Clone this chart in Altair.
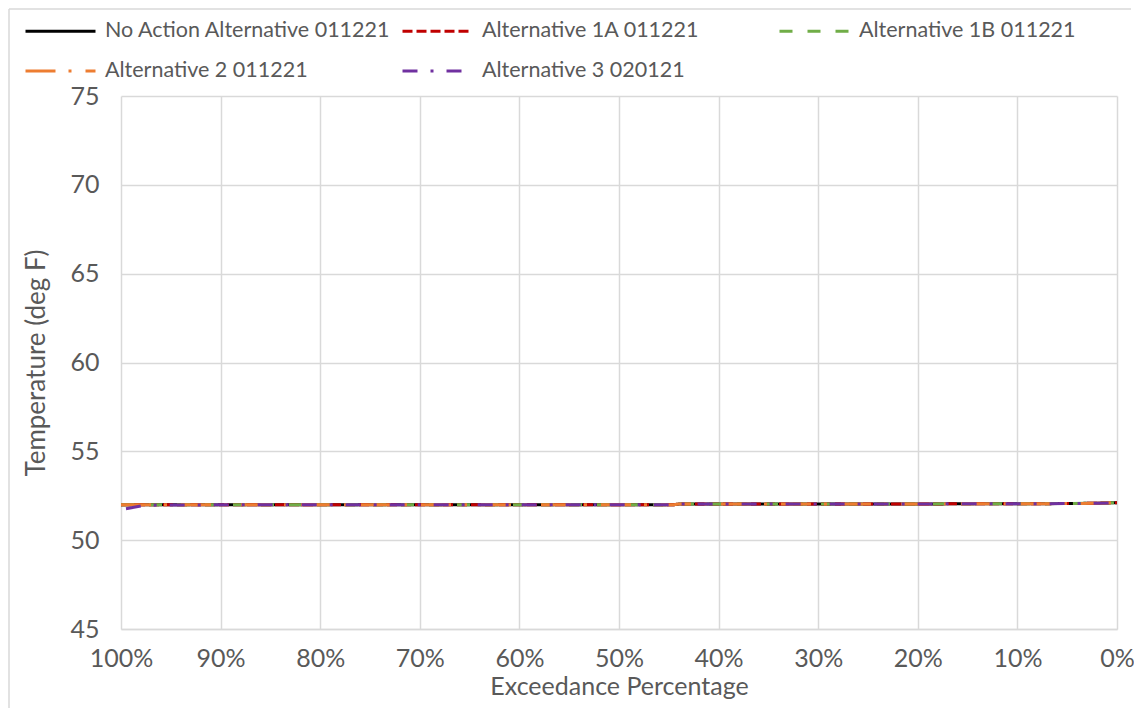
import altair as alt
import pandas as pd

# ---- data ----
series = [
    "No Action Alternative 011221",
    "Alternative 1A 011221",
    "Alternative 1B 011221",
    "Alternative 2 011221",
    "Alternative 3 020121",
]
colors = ["#000000", "#C00000", "#70AD47", "#ED7D31", "#7030A0"]
dashes = [[1, 0], [10, 4], [13, 15], [30, 13, 3, 14], [15, 13, 3, 13]]

# exceedance percentages and temperatures (deg F)
pct_common = [100, 90, 80, 70, 60, 50, 44.5, 44, 40, 30, 20, 10, 5, 2, 0]
temp_common = [51.99, 51.99, 51.99, 51.99, 51.99, 51.99, 51.99,
               52.03, 52.03, 52.03, 52.04, 52.05, 52.06, 52.08, 52.11]
pct_alt3 = [99.5, 97.5, 90, 80, 70, 60, 50, 44.5, 44, 40, 30, 20, 10, 5, 2, 0]
temp_alt3 = [51.77, 51.97, 51.99, 51.99, 51.99, 51.99, 51.99, 51.99,
             52.03, 52.03, 52.03, 52.04, 52.05, 52.06, 52.08, 52.11]

y_ticks = [45, 50, 55, 60, 65, 70, 75]
x_ticks = [0, 10, 20, 30, 40, 50, 60, 70, 80, 90, 100]

rows = []
for s in series[:-1]:
    for p, t in zip(pct_common, temp_common):
        rows.append({"series": s, "pct": p, "temp": t})
for p, t in zip(pct_alt3, temp_alt3):
    rows.append({"series": series[-1], "pct": p, "temp": t})
df = pd.DataFrame(rows)

FONT = "Lato"
TXT = "#595959"
GRID = "#d9d9d9"

legend = alt.Legend(
    title=None, orient="none", legendX=-97, legendY=-75, direction="horizontal",
    columns=3, gridAlign="all", symbolType="stroke", symbolSize=4900,
    symbolStrokeWidth=3, labelFont=FONT, labelFontSize=21.5, labelColor=TXT,
    labelOffset=8, columnPadding=10, rowPadding=18, clipHeight=20,
    labelLimit=500, padding=0,
)

base = alt.Chart(df).mark_line(strokeWidth=3, clip=True).encode(
    x=alt.X("pct:Q",
            scale=alt.Scale(domain=[0, 100], reverse=True, nice=False),
            axis=alt.Axis(values=x_ticks, labelExpr="datum.value + '%'",
                          title="Exceedance Percentage", labelPadding=17,
                          labelFlush=False, labelOverlap=False,
                          titlePadding=3, titleFontSize=25, domain=True)),
    y=alt.Y("temp:Q",
            scale=alt.Scale(domain=[45, 75], nice=False, zero=False),
            axis=alt.Axis(values=y_ticks, title="Temperature (deg F)",
                          labelPadding=22, titlePadding=20, domain=False)),
    color=alt.Color("series:N", scale=alt.Scale(domain=series, range=colors),
                    legend=legend),
    strokeDash=alt.StrokeDash("series:N", scale=alt.Scale(domain=series, range=dashes),
                              legend=legend),
)

layers = [base.transform_filter(alt.datum.series == s) for s in series]

frame = alt.Chart(pd.DataFrame({"k": [0]})).mark_rule(color=GRID, strokeWidth=1.5).encode(
    x=alt.value(-112), x2=alt.value(1010), y=alt.value(-87), y2=alt.value(-87)
)
frame2 = alt.Chart(pd.DataFrame({"k": [0]})).mark_rule(color=GRID, strokeWidth=1.5).encode(
    x=alt.value(-112), x2=alt.value(-112), y=alt.value(-87), y2=alt.value(618)
)

chart = alt.layer(frame, frame2, *layers).properties(
    width=996, height=533,
    autosize=alt.AutoSizeParams(type="none"),
    padding={"left": 113, "top": 88, "right": 17, "bottom": 79},
).configure_axis(
    labelFont=FONT, labelFontSize=25, labelColor=TXT,
    titleFont=FONT, titleFontSize=26, titleColor=TXT, titleFontWeight="normal",
    grid=True, gridColor=GRID, gridWidth=1.5, ticks=False,
    domainColor=GRID, domainWidth=1.5,
).configure_view(stroke=None)

chart.save("out.html", embed_options={"renderer": "svg", "actions": False})
